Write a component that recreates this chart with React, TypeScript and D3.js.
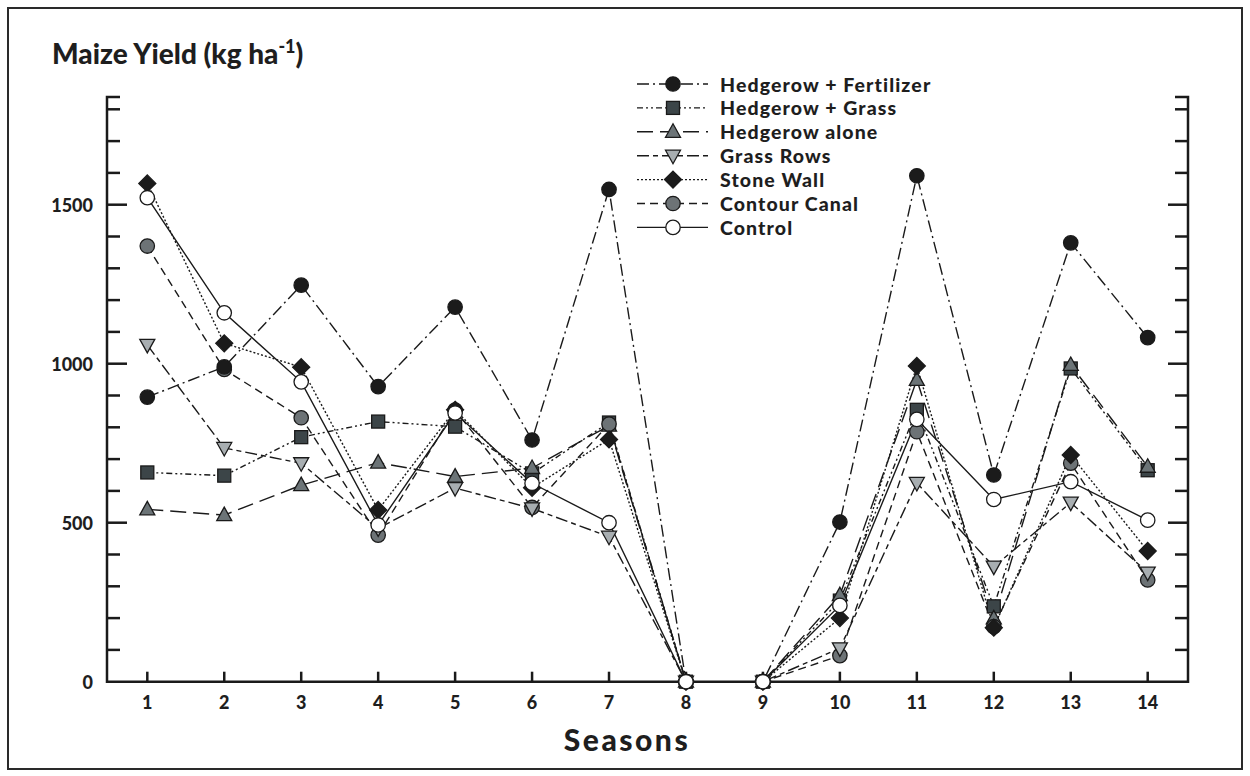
import React from "react";
import * as d3 from "d3";

const seasons = [1, 2, 3, 4, 5, 6, 7, 8, 9, 10, 11, 12, 13, 14];
const hedgerowFertilizer = [895, 990, 1247, 928, 1178, 760, 1548, 0, 0, 502, 1591, 650, 1380, 1082];
const hedgerowGrass = [658, 648, 769, 818, 802, 655, 815, 0, 0, 255, 855, 237, 985, 665];
const hedgerowAlone = [542, 524, 618, 689, 645, 672, 805, 0, 0, 272, 949, 199, 996, 676];
const grassRows = [1059, 735, 687, 482, 609, 545, 456, 0, 0, 105, 625, 362, 563, 343];
const stoneWall = [1567, 1064, 989, 540, 855, 610, 762, 0, 0, 200, 993, 170, 713, 411];
const contourCanal = [1370, 982, 830, 461, 854, 548, 810, 0, 0, 82, 786, 173, 687, 320];
const control = [1522, 1160, 943, 493, 845, 624, 500, 0, 0, 240, 825, 573, 629, 508];
const yTickLabels = [0, 500, 1000, 1500];

type Series = { name: string; values: number[]; shape: string; fill: string; dash: string };

const series: Series[] = [
  { name: "Hedgerow + Fertilizer", values: hedgerowFertilizer, shape: "circle", fill: "#1b1b1b", dash: "12,4,2,4" },
  { name: "Hedgerow + Grass", values: hedgerowGrass, shape: "square", fill: "#3c4548", dash: "6,3,2,3,2,3" },
  { name: "Hedgerow alone", values: hedgerowAlone, shape: "triangle", fill: "#6c7477", dash: "16,7" },
  { name: "Grass Rows", values: grassRows, shape: "triangleDown", fill: "#a8aeb1", dash: "12,4,5,4" },
  { name: "Stone Wall", values: stoneWall, shape: "diamond", fill: "#1b1b1b", dash: "2,2" },
  { name: "Contour Canal", values: contourCanal, shape: "circle", fill: "#6d7376", dash: "8,5" },
  { name: "Control", values: control, shape: "circle", fill: "#ffffff", dash: "none" },
];

const markerOrder = ["Hedgerow + Grass", "Hedgerow alone", "Contour Canal", "Grass Rows", "Stone Wall", "Hedgerow + Fertilizer", "Control"];

const FONT = "Lato, 'Open Sans', sans-serif";

function Marker({ shape, fill, cx, cy }: { shape: string; fill: string; cx: number; cy: number }) {
  const stroke = "#1a1a1a";
  const sw = 1.3;
  if (shape === "circle") return <circle cx={cx} cy={cy} r={7.2} fill={fill} stroke={stroke} strokeWidth={sw} />;
  if (shape === "square") return <rect x={cx - 6.5} y={cy - 6.5} width={13} height={13} fill={fill} stroke={stroke} strokeWidth={sw} />;
  if (shape === "diamond") {
    const s = 8.5;
    return <path d={`M${cx},${cy - s}L${cx + s},${cy}L${cx},${cy + s}L${cx - s},${cy}Z`} fill={fill} stroke={stroke} strokeWidth={sw} />;
  }
  if (shape === "triangle") {
    return <path d={`M${cx},${cy - 8}L${cx + 7.5},${cy + 5.5}L${cx - 7.5},${cy + 5.5}Z`} fill={fill} stroke={stroke} strokeWidth={sw} />;
  }
  return <path d={`M${cx},${cy + 8}L${cx + 7.5},${cy - 5.5}L${cx - 7.5},${cy - 5.5}Z`} fill={fill} stroke={stroke} strokeWidth={sw} />;
}

export default function App() {
  const W = 1250, H = 776;
  const x = d3.scaleLinear().domain([1, 14]).range([147.3, 1147.7]);
  const y = d3.scaleLinear().domain([0, 1000]).range([681.7, 363.7]);
  const axL = 107, axR = 1188, axTop = 97, axBottom = y(0);
  const minorTicks = d3.range(100, 1900, 100);
  const line = d3.line<number>().x((_, i) => x(seasons[i])).y((v) => y(v));

  const legendX0 = 637, legendX1 = 708, legendMx = 673, legendTx = 720;
  const legendY = (i: number) => 84 + i * 23.9;

  return (
    <svg width={W} height={H} style={{ position: "absolute", left: 0, top: 0, background: "#fff" }} fontFamily={FONT}>
      <rect x={0} y={0} width={W} height={H} fill="#fff" />
      <rect x={8} y={8} width={1234} height={761} fill="none" stroke="#2a2a2a" strokeWidth={2} />

      {/* title */}
      <text x={52} y={64} fontSize={28} fontWeight={900} fill="#1e1e1e">
        Maize Yield (kg ha<tspan dy={-11} fontSize={18}>-1</tspan><tspan dy={11}>)</tspan>
      </text>

      {/* axes */}
      <g stroke="#1a1a1a" strokeWidth={2.5} fill="none">
        <path d={`M${axL + 13},${axTop}H${axL}V${axBottom}H${axR}V${axTop}H${axR - 13}`} />
        {minorTicks.map((t) => {
          const major = t % 500 === 0;
          const len = major ? 20 : 13;
          return (
            <g key={t}>
              <line x1={axL} x2={axL + len} y1={y(t)} y2={y(t)} />
              <line x1={axR} x2={axR - len} y1={y(t)} y2={y(t)} />
            </g>
          );
        })}
        {seasons.map((s) => (
          <line key={s} x1={x(s)} x2={x(s)} y1={axBottom} y2={axBottom - 10} />
        ))}
      </g>

      {/* tick labels */}
      <g fontSize={18} fontWeight={900} fill="#1e1e1e">
        {yTickLabels.map((t) => (
          <text key={t} x={93} y={y(t)} textAnchor="end" dominantBaseline="central">{t}</text>
        ))}
        {seasons.map((s) => (
          <text key={s} x={x(s)} y={702} textAnchor="middle" dominantBaseline="central">{s}</text>
        ))}
      </g>
      <text x={627} y={751} fontSize={30} fontWeight={900} textAnchor="middle" fill="#1e1e1e" letterSpacing={2.5}>Seasons</text>

      {/* lines */}
      <g fill="none" stroke="#1a1a1a" strokeWidth={1.4}>
        {series.map((s) => (
          <path key={s.name} d={line(s.values) || ""} strokeDasharray={s.dash === "none" ? undefined : s.dash} />
        ))}
      </g>

      {/* markers */}
      {markerOrder.map((nm) => {
        const s = series.find((d) => d.name === nm)!;
        return (
          <g key={nm}>
            {s.values.map((v, i) => (
              <Marker key={i} shape={s.shape} fill={s.fill} cx={x(seasons[i])} cy={y(v)} />
            ))}
          </g>
        );
      })}

      {/* legend */}
      {series.map((s, i) => (
        <g key={s.name}>
          <line x1={legendX0} x2={legendX1} y1={legendY(i)} y2={legendY(i)} stroke="#1a1a1a" strokeWidth={1.4}
            strokeDasharray={s.dash === "none" ? undefined : s.dash} />
          <Marker shape={s.shape} fill={s.fill} cx={legendMx} cy={legendY(i)} />
          <text x={legendTx} y={legendY(i)} dominantBaseline="central" fontSize={19.5} fontWeight={900} fill="#1e1e1e" letterSpacing={1.1}>{s.name}</text>
        </g>
      ))}
    </svg>
  );
}
